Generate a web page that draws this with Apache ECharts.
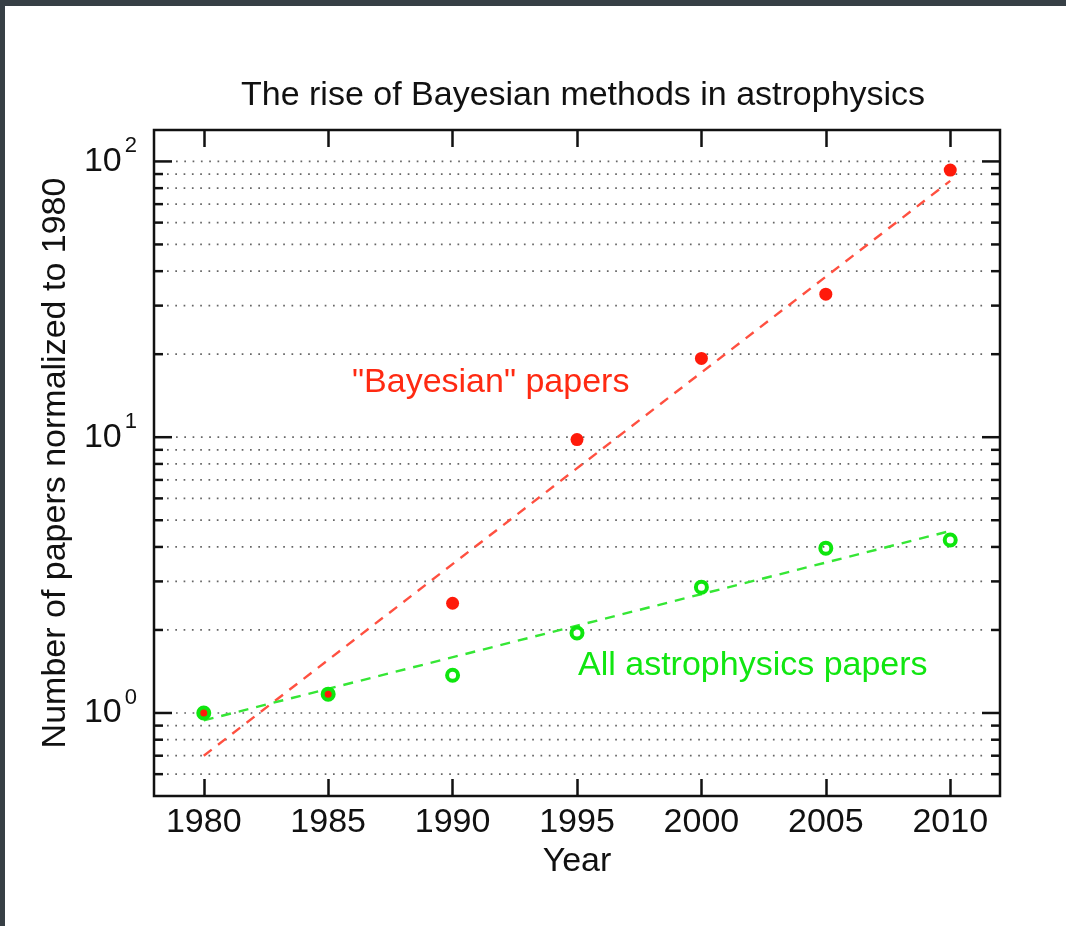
<!DOCTYPE html>
<html>
<head>
<meta charset="utf-8">
<script src="https://cdn.jsdelivr.net/npm/echarts@6/dist/echarts.min.js"></script>
<style>
html,body{margin:0;padding:0;background:#373f45;width:1066px;height:926px;overflow:hidden;}
#main{position:absolute;left:5px;top:6px;width:1061px;height:920px;background:#fff;}
</style>
</head>
<body>
<div id="main"></div>
<script>
// ---- data ----
var years = [1980, 1985, 1990, 1995, 2000, 2005, 2010];
var bayesianPapers = [1.0, 1.17, 2.5, 9.8, 19.3, 33, 93];
var allPapers = [1.0, 1.17, 1.37, 1.95, 2.86, 3.96, 4.24];
var fitYears = [1980, 2010];
var bayesianFit = [0.70, 85];
var allFit = [0.94, 4.57];
var yMajorTicks = [1, 10, 100];
var yGridValues = [0.6, 0.7, 0.8, 0.9, 1, 2, 3, 4, 5, 6, 7, 8, 9, 10, 20, 30, 40, 50, 60, 70, 80, 90, 100];
var xTicks = [1980, 1985, 1990, 1995, 2000, 2005, 2010];

var FONT = '"Liberation Sans", Arial, Helvetica, sans-serif';
var FS = 34;
var zip = function (xs, ys) { return xs.map(function (x, i) { return [x, ys[i]]; }); };
var isPow10 = function (v) { var l = Math.log10(v); return Math.abs(l - Math.round(l)) < 1e-9; };

var chart = echarts.init(document.getElementById('main'), null, {renderer: 'canvas'});

var tickStyle = {color: '#111', width: 2.5};

var option = {
  backgroundColor: '#fff',
  animation: false,
  title: {
    text: 'The rise of Bayesian methods in astrophysics',
    left: 231, top: 68,
    textStyle: {fontFamily: FONT, fontSize: FS, fontWeight: 'normal', color: '#111'}
  },
  grid: {left: 149, right: 66, top: 124, bottom: 130, show: true, borderColor: '#111', borderWidth: 2.5, backgroundColor: 'transparent'},
  xAxis: [{
    type: 'value', min: 1978, max: 2012, position: 'bottom',
    name: 'Year', nameLocation: 'middle', nameGap: 43,
    nameTextStyle: {fontFamily: FONT, fontSize: FS, color: '#111'},
    axisLine: {show: false},
    axisTick: {show: true, inside: true, length: 17, customValues: xTicks, lineStyle: tickStyle},
    axisLabel: {customValues: xTicks, fontFamily: FONT, fontSize: FS, color: '#111', margin: 10,
      formatter: function (v) { return String(Math.round(v)); }},
    splitLine: {show: false}
  }, {
    type: 'value', min: 1978, max: 2012, position: 'top',
    axisLine: {show: false},
    axisTick: {show: true, inside: true, length: 17, customValues: xTicks, lineStyle: tickStyle},
    axisLabel: {show: false},
    splitLine: {show: false}
  }],
  yAxis: [{
    type: 'log', logBase: 10, min: 0.5, max: 130, position: 'left',
    name: 'Number of papers normalized to 1980', nameLocation: 'middle', nameGap: 80, nameRotate: 90,
    nameTextStyle: {fontFamily: FONT, fontSize: FS, color: '#111'},
    axisLine: {show: false},
    axisTick: {show: false},
    splitLine: {show: false},
    axisLabel: {
      customValues: yMajorTicks, margin: 17,
      formatter: function (v) {
        if (!isPow10(v)) return '';
        return '{b|10}{s|' + Math.round(Math.log10(v)) + '}';
      },
      rich: {
        b: {fontFamily: FONT, fontSize: FS, color: '#111', lineHeight: 52},
        s: {fontFamily: FONT, fontSize: 22, color: '#111', verticalAlign: 'top', lineHeight: 22, padding: [0, 0, 0, 3]}
      }
    }
  }, {
    type: 'log', logBase: 10, min: 0.5, max: 130, position: 'right',
    axisLine: {show: false}, axisTick: {show: false}, axisLabel: {show: false}, splitLine: {show: false}
  }],
  graphic: [{
    type: 'text', left: 347, top: 360,
    style: {text: '"Bayesian" papers', fill: '#ff2a12', font: FS + 'px ' + FONT}
  }, {
    type: 'text', left: 573, top: 643,
    style: {text: 'All astrophysics papers', fill: '#11e611', font: FS + 'px ' + FONT}
  }],
  series: [{
    // dotted grid lines and y ticks at every decade subdivision
    type: 'custom',
    xAxisIndex: 0, yAxisIndex: 0,
    silent: true, z: 1,
    data: yGridValues.map(function (v) { return [1978, v]; }),
    renderItem: function (params, api) {
      var cs = params.coordSys;
      var y = api.coord([api.value(0), api.value(1)])[1];
      var len = isPow10(api.value(1)) ? 18 : 9;
      var x0 = cs.x, x1 = cs.x + cs.width;
      return {
        type: 'group',
        children: [{
          type: 'line',
          shape: {x1: x0 + len + 4, y1: y, x2: x1 - len - 4, y2: y},
          style: {stroke: '#666', lineWidth: 1.7, lineDash: [1.7, 6.6]}
        }, {
          type: 'line', shape: {x1: x0, y1: y, x2: x0 + len, y2: y},
          style: {stroke: '#111', lineWidth: 2.5}
        }, {
          type: 'line', shape: {x1: x1 - len, y1: y, x2: x1, y2: y},
          style: {stroke: '#111', lineWidth: 2.5}
        }]
      };
    }
  }, {
    name: 'Bayesian fit', type: 'line', z: 3,
    data: zip(fitYears, bayesianFit),
    showSymbol: false, symbol: 'none',
    lineStyle: {color: '#ff5040', width: 2.4, type: [10, 8]}
  }, {
    name: 'All fit', type: 'line', z: 3,
    data: zip(fitYears, allFit),
    showSymbol: false, symbol: 'none',
    lineStyle: {color: '#35e635', width: 2.4, type: [10, 8]}
  }, {
    name: '"Bayesian" papers', type: 'scatter', z: 4,
    data: zip(years, bayesianPapers),
    symbol: 'circle', symbolSize: 13,
    itemStyle: {color: '#ff1a0a', opacity: 1}
  }, {
    name: 'All astrophysics papers', type: 'scatter', z: 5,
    data: zip(years, allPapers),
    symbol: 'circle', symbolSize: 11,
    itemStyle: {color: 'rgba(0,0,0,0)', borderColor: '#0ee60e', borderWidth: 4, opacity: 1}
  }]
};
chart.setOption(option);
</script>
</body>
</html>
